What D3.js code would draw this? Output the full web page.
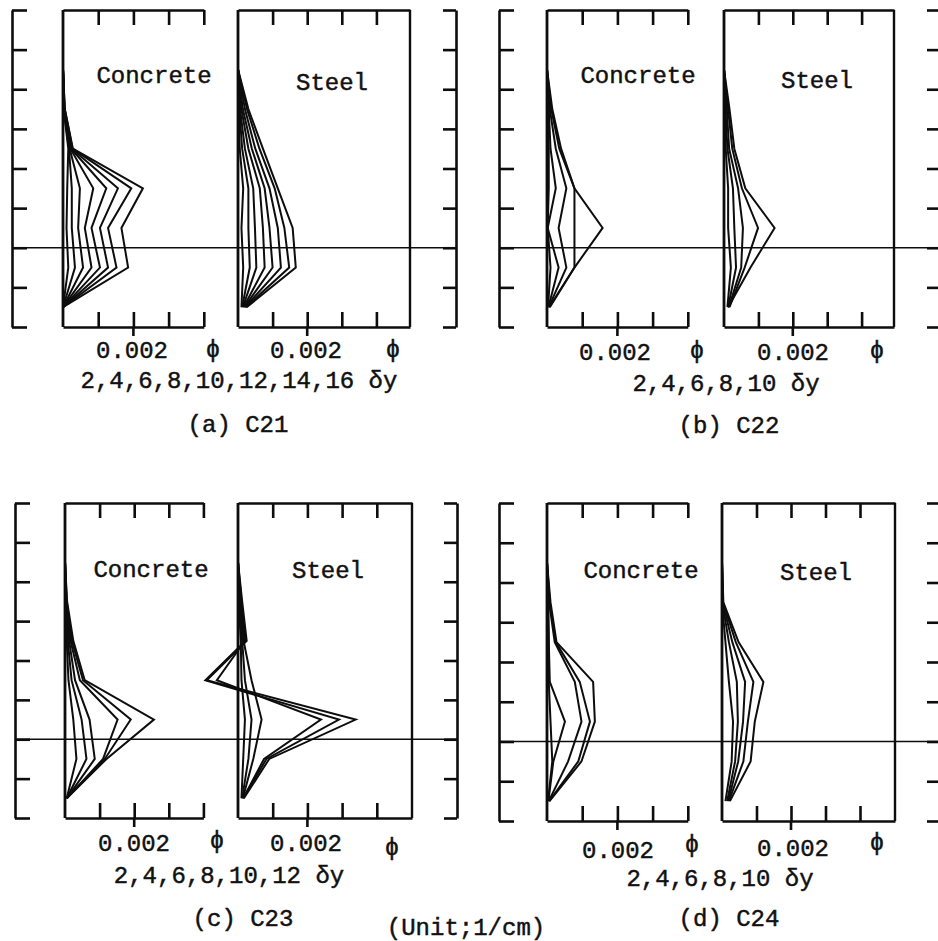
<!DOCTYPE html>
<html>
<head>
<meta charset="utf-8">
<script src="https://cdnjs.cloudflare.com/ajax/libs/d3/7.8.5/d3.min.js"></script>
<style>
  body { margin: 0; background: #fff; }
  svg text { font-family: "Liberation Mono", "DejaVu Sans Mono", monospace; font-size: 24px; fill: #111; stroke: #111; stroke-width: 0.45px; }
</style>
</head>
<body>
<div id="root"></div>
<script>
// curvature distributions along the column (phi in 1/cm, x 10^-3)
// each row is one loading stage (2, 4, 6 ... delta y), one value per section level
const levels = [0.5, 1.5, 2.5, 3.5, 4.5, 5.5, 6.5];

const c21Concrete = [
    [0, 0.15, 0.10, 0.12, 0.15, 0.02, 0],
    [0, 0.34, 0.25, 0.25, 0.17, 0.02, 0],
    [0, 0.57, 0.43, 0.48, 0.19, 0.03, 0],
    [0, 0.81, 0.62, 0.86, 0.21, 0.03, 0],
    [0, 1.05, 0.81, 1.23, 0.23, 0.04, 0],
    [0, 1.28, 1.05, 1.56, 0.25, 0.04, 0],
    [0, 1.52, 1.28, 1.94, 0.27, 0.05, 0],
    [0, 1.85, 1.66, 2.27, 0.28, 0.05, 0]
];
const c21Steel = [
    [0.10, 0.15, 0.10, 0.15, 0.05, 0.02, 0],
    [0.12, 0.34, 0.30, 0.30, 0.12, 0.04, 0],
    [0.14, 0.53, 0.49, 0.44, 0.20, 0.06, 0],
    [0.16, 0.77, 0.72, 0.63, 0.30, 0.10, 0],
    [0.18, 1.00, 0.91, 0.77, 0.40, 0.14, 0],
    [0.20, 1.24, 1.15, 0.91, 0.50, 0.20, 0],
    [0.22, 1.48, 1.34, 1.06, 0.62, 0.26, 0],
    [0.25, 1.67, 1.58, 1.15, 0.72, 0.30, 0]
];
const c22Concrete = [
    [0.03, 0.10, 0.02, 0.05, 0.05, 0.02, 0],
    [0.04, 0.33, 0.02, 0.25, 0.10, 0.05, 0],
    [0.05, 0.55, 0.33, 0.55, 0.25, 0.08, 0],
    [0.06, 0.78, 0.78, 0.78, 0.35, 0.12, 0],
    [0.08, 0.78, 1.58, 0.78, 0.40, 0.15, 0]
];
const c22Steel = [
    [0.10, 0.20, 0.12, 0.12, 0.05, 0.02, 0],
    [0.12, 0.35, 0.30, 0.26, 0.10, 0.04, 0],
    [0.14, 0.50, 0.55, 0.41, 0.15, 0.08, 0],
    [0.16, 0.60, 0.99, 0.52, 0.24, 0.12, 0],
    [0.12, 0.77, 1.47, 0.62, 0.30, 0.16, 0]
];
const c23Concrete = [
    [0.05, 0.33, 0.24, 0.10, 0.05, 0.01, 0],
    [0.05, 0.62, 0.48, 0.19, 0.08, 0.02, 0],
    [0.05, 0.86, 0.71, 0.29, 0.12, 0.03, 0],
    [0.05, 1.10, 1.52, 0.43, 0.16, 0.04, 0],
    [0.05, 1.15, 1.90, 0.52, 0.20, 0.05, 0],
    [0.05, 1.20, 2.57, 0.57, 0.24, 0.06, 0]
];
const c23Steel = [
    [0.10, 0.15, 0.20, 0.10, 0.08, 0.02, 0],
    [0.12, 0.30, 0.39, 0.20, 0.12, 0.04, 0],
    [0.14, 0.44, 0.68, 0.39, 0.16, 0.06, 0],
    [0.15, 0.75, 2.39, -0.61, 0.20, 0.08, 0],
    [0.15, 0.82, 2.91, -0.94, 0.22, 0.10, 0],
    [0.17, 0.90, 3.39, -0.90, 0.25, 0.12, 0]
];
const c24Concrete = [
    [0.03, 0.15, 0.10, 0.05, 0.05, 0.02, 0],
    [0.04, 0.18, 0.51, 0.08, 0.05, 0.04, 0],
    [0.05, 0.60, 0.98, 0.79, 0.22, 0.06, 0],
    [0.06, 0.89, 1.22, 0.93, 0.25, 0.08, 0],
    [0.07, 0.98, 1.36, 1.31, 0.27, 0.10, 0]
];
const c24Steel = [
    [0.10, 0.28, 0.32, 0.20, 0.10, 0.00, 0],
    [0.15, 0.38, 0.46, 0.43, 0.20, 0.01, 0],
    [0.18, 0.47, 0.61, 0.67, 0.30, 0.02, 0],
    [0.20, 0.62, 0.75, 0.91, 0.40, 0.03, 0],
    [0.23, 0.83, 0.95, 1.20, 0.48, 0.04, 0]
];

const panelNames = ["(a) C21", "(b) C22", "(c) C23", "(d) C24"];
const stageLabels = ["2,4,6,8,10,12,14,16 δy", "2,4,6,8,10 δy", "2,4,6,8,10,12 δy", "2,4,6,8,10 δy"];
const boxTicks = [1, 2, 3, 4];
const bracketTicks = [0, 1, 2, 3, 4, 5, 6, 7, 8];
const tickLabel = 2;      // 0.002
const zeroLevel = 2;      // the horizontal reference line
const unitLabel = "(Unit;1/cm)";

const series = [
    [c21Concrete, c21Steel],
    [c22Concrete, c22Steel],
    [c23Concrete, c23Steel],
    [c24Concrete, c24Steel]
];

// page layout (pixels)
const layout = [
    { lb: 12, rb: 456, top: 10, bottom: 327, cx0: 63, cu: 35.2, sx0: 238, su: 34.6, sx1: 410,
      tConc: [154, 83], tSteel: [332, 90], c002: [132, 358], cPhi: [213, 357], s002: [306, 358], sPhi: [393, 357],
      stage: [239, 388], cap: [238, 432] },
    { lb: 499, rb: 940, top: 10, bottom: 327, cx0: 547, cu: 35.2, sx0: 724, su: 34.4, sx1: 894,
      tConc: [638, 83], tSteel: [817, 88], c002: [615, 360], cPhi: [697, 358], s002: [793, 360], sPhi: [877, 358],
      stage: [726, 391], cap: [729, 433] },
    { lb: 15, rb: 457, top: 503, bottom: 818, cx0: 65, cu: 34.6, sx0: 238, su: 34.7, sx1: 412,
      tConc: [151, 577], tSteel: [328, 578], c002: [134, 851], cPhi: [217, 848], s002: [306, 851], sPhi: [392, 855],
      stage: [229, 883], cap: [243, 926] },
    { lb: 499, rb: 940, top: 503, bottom: 821, cx0: 547, cu: 35.2, sx0: 722, su: 34.5, sx1: 895,
      tConc: [641, 578], tSteel: [816, 580], c002: [618, 858], cPhi: [692, 852], s002: [793, 856], sPhi: [877, 850],
      stage: [720, 886], cap: [729, 926] }
];

const w = 938, h = 941;
const ink = "#0d0d0d";

const svg = d3.select("#root")
    .append("svg")
    .attr("width", w)
    .attr("height", h);

function styleAxis(g, width) {
    g.attr("color", ink);
    g.selectAll("path, line").attr("stroke-width", width);
}

function addText(pos, str) {
    svg.append("text")
        .attr("x", pos[0])
        .attr("y", pos[1])
        .attr("text-anchor", "middle")
        .text(str);
}

function drawBox(x, y, top, bottom, rows, closed) {
    // top edge, ticks pointing down
    svg.append("g")
        .attr("transform", "translate(0," + top + ")")
        .call(d3.axisBottom(x).tickValues(boxTicks).tickSizeInner(15).tickSizeOuter(0).tickFormat(""))
        .call(g => styleAxis(g, 2.6));
    // bottom edge, ticks pointing up
    svg.append("g")
        .attr("transform", "translate(0," + bottom + ")")
        .call(d3.axisTop(x).tickValues(boxTicks).tickSizeInner(15).tickSizeOuter(0).tickFormat(""))
        .call(g => styleAxis(g, 2.6));
    // the 0.002 tick reaches below the box
    svg.append("line")
        .attr("x1", x(tickLabel)).attr("x2", x(tickLabel))
        .attr("y1", bottom).attr("y2", bottom + 9)
        .attr("stroke", ink).attr("stroke-width", 2.6);
    // left side (phi = 0)
    svg.append("line")
        .attr("x1", x(0)).attr("x2", x(0))
        .attr("y1", top).attr("y2", bottom)
        .attr("stroke", ink).attr("stroke-width", 2.8);
    if (closed) {
        const xr = x.range()[1];
        svg.append("line")
            .attr("x1", xr).attr("x2", xr)
            .attr("y1", top).attr("y2", bottom)
            .attr("stroke", ink).attr("stroke-width", 2.4);
    }

    const line = d3.line()
        .x(d => x(d[0]))
        .y(d => y(d[1]));

    svg.append("g")
        .selectAll("path")
        .data(rows)
        .enter()
        .append("path")
        .attr("d", row => line(row.map((v, k) => [v, levels[k]])))
        .attr("fill", "none")
        .attr("stroke", ink)
        .attr("stroke-width", 2)
        .attr("stroke-linejoin", "miter");
}

layout.forEach((p, i) => {
    const y = d3.scaleLinear().domain([0, 8]).range([p.bottom, p.top]);

    // brackets on both sides
    svg.append("g")
        .attr("transform", "translate(" + p.lb + ",0)")
        .call(d3.axisRight(y).tickValues(bracketTicks).tickSizeInner(15).tickSizeOuter(0).tickFormat(""))
        .call(g => styleAxis(g, 2.6));
    svg.append("g")
        .attr("transform", "translate(" + p.rb + ",0)")
        .call(d3.axisLeft(y).tickValues(bracketTicks).tickSizeInner(13).tickSizeOuter(0).tickFormat(""))
        .call(g => styleAxis(g, 2.6));

    // reference line
    svg.append("line")
        .attr("x1", p.lb).attr("x2", p.rb)
        .attr("y1", y(zeroLevel)).attr("y2", y(zeroLevel))
        .attr("stroke", ink).attr("stroke-width", 1.7);

    const cx = d3.scaleLinear().domain([0, 4]).range([p.cx0, p.cx0 + 4 * p.cu]);
    const sx = d3.scaleLinear().domain([0, (p.sx1 - p.sx0) / p.su]).range([p.sx0, p.sx1]);

    drawBox(cx, y, p.top, p.bottom, series[i][0], false);
    drawBox(sx, y, p.top, p.bottom, series[i][1], true);

    addText(p.tConc, "Concrete");
    addText(p.tSteel, "Steel");
    addText(p.c002, "0.002");
    addText(p.cPhi, "ϕ");
    addText(p.s002, "0.002");
    addText(p.sPhi, "ϕ");
    addText(p.stage, stageLabels[i]);
    addText(p.cap, panelNames[i]);
});

addText([466, 935], unitLabel);
</script>
</body>
</html>
